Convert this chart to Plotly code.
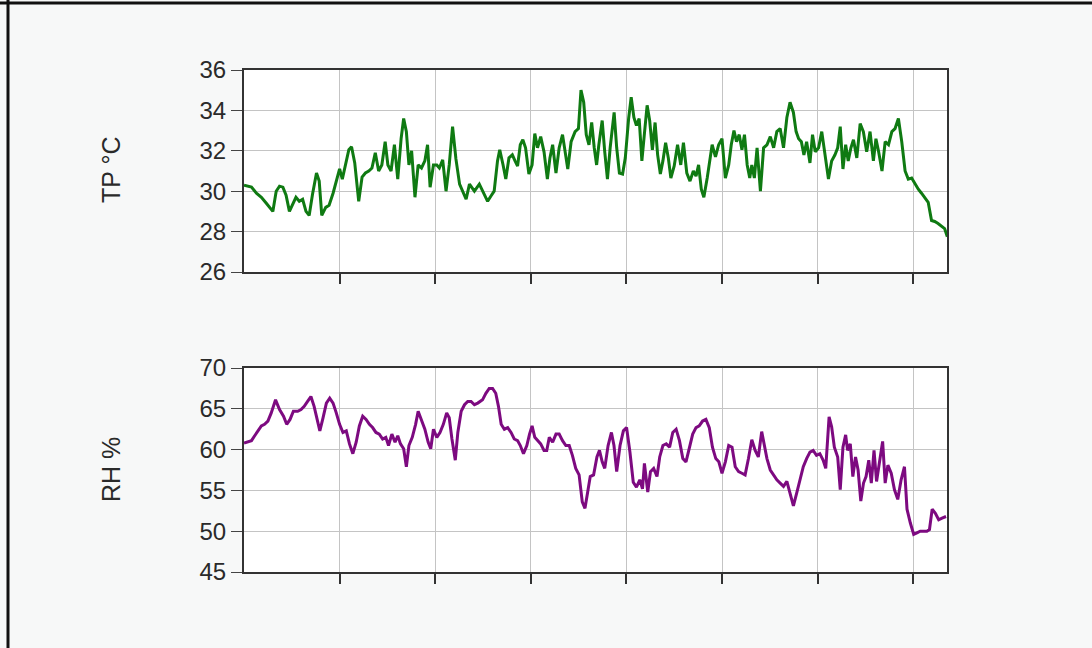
import plotly.graph_objects as go

# minutes since start of record (grid lines every hour)
tp_min = [0, 4.7, 7.8, 10.9, 14.0, 18.1, 20.2, 22.3, 24.4, 26.4, 28.5, 30.6, 32.6, 34.7, 36.8, 38.9, 40.9,
          43.0, 45.5, 47.2, 48.8, 51.3, 53.4, 55.9, 58.6, 60.0, 61.7, 63.7, 65.8, 67.5, 69.5, 72.0, 74.1,
          76.2, 78.3, 80.3, 82.4, 84.5, 86.5, 88.6, 90.3, 92.3, 94.4, 96.5, 98.6, 100.2, 101.9, 103.5,
          105.2, 107.3, 109.3, 111.4, 113.5, 115.2, 116.8, 118.9, 121.0, 122.6, 124.7, 126.8, 128.8,
          130.9, 133.0, 135.3, 137.3, 139.4, 141.5, 144.6, 147.7,
          150.8, 152.9, 154.9, 157.0, 159.1, 160.5, 162.6, 164.3, 166.3, 168.4, 170.1, 171.7, 173.4,
          175.0, 176.7, 178.8, 180.8, 182.5, 184.2, 186.2, 188.3, 190.4, 192.0, 193.7, 195.8, 197.8,
          199.9, 201.6, 203.2, 205.3, 207.8, 209.9, 211.5, 213.2, 214.8, 216.5, 218.2, 219.8, 221.3,
          222.7, 224.8, 226.4, 228.1, 229.8, 232.3, 233.9, 235.6, 237.6, 239.3, 241.4, 243.0, 244.7,
          246.3, 248.0, 249.7, 251.3, 253.0, 254.6, 256.3, 258.0, 259.6, 261.3, 262.9, 264.6, 266.3,
          267.9, 270.0, 272.1, 274.1, 275.8, 277.9, 279.9, 282.0, 283.7, 285.3, 287.0, 288.6, 290.7,
          293.8, 295.9, 297.9, 300.0, 302.1, 304.2, 305.8, 307.5, 309.1, 310.8, 312.5, 314.1, 315.8,
          317.4, 318.7, 320.3, 322.0, 324.1, 326.1, 328.2, 330.3, 332.4, 334.4, 336.5, 338.6, 340.7,
          342.7, 344.8, 346.5, 348.1, 349.8, 351.4, 353.1, 355.2, 356.8, 358.5, 360.6, 362.6, 364.7,
          366.8, 368.8, 370.9, 372.6, 374.2, 375.9, 377.6, 379.2, 380.9, 382.5, 384.6, 386.7, 388.7,
          390.8, 392.9, 395.0, 396.6, 398.3, 400.4, 402.4, 404.5, 406.6, 408.6, 410.7, 412.8, 414.9,
          416.9, 419.0, 421.1, 423.2, 425.2, 427.3, 429.4, 431.5, 433.5, 435.6, 437.7, 439.7, 441.4]
tp_val = [30.3, 30.2, 29.9, 29.7, 29.4, 29.0, 30.0, 30.25, 30.2, 29.8, 29.0, 29.4, 29.7, 29.5, 29.6, 29.0, 28.8,
          29.85, 30.9, 30.5, 28.8, 29.2, 29.3, 29.9, 30.7, 31.1, 30.6, 31.3, 32.05, 32.2, 31.4, 29.5, 30.7,
          30.9, 31.0, 31.15, 31.9, 31.0, 31.3, 32.45, 31.3, 31.0, 32.3, 30.6, 32.6, 33.6, 32.95, 31.3,
          32.0, 29.7, 31.3, 31.15, 31.5, 32.3, 30.2, 31.3, 31.3, 31.15, 31.55, 30.0, 31.3,
          33.2, 31.6, 30.35, 30.0, 29.6, 30.35, 30.0, 30.35,
          29.85, 29.5, 29.75, 30.0, 31.5, 32.05, 31.3, 30.6, 31.65, 31.8, 31.5, 31.25, 32.3,
          32.55, 32.15, 30.85, 31.3, 32.85, 32.15, 32.7, 31.95, 30.6, 31.65, 32.3, 30.9, 32.15,
          32.8, 31.8, 31.1, 32.45, 32.95, 33.1, 35.0, 34.4, 32.8, 32.3, 33.4, 32.15, 31.3,
          32.3, 33.5, 31.95, 30.6, 32.15, 33.9, 32.15, 30.9, 30.85, 31.65, 33.6, 34.65, 33.65,
          33.25, 33.6, 31.5, 32.85, 34.25, 33.5, 32.05, 33.4, 31.8, 30.85, 31.5, 32.4, 31.65,
          30.65, 31.25, 32.3, 31.3, 32.4, 30.9, 30.5, 31.0, 30.75, 31.3, 30.1, 29.7, 30.65,
          32.3, 31.7, 32.3, 32.6, 30.65, 31.3, 32.3, 33.0, 32.45, 32.8, 32.05, 32.8, 31.3,
          30.65, 31.3, 30.65, 32.15, 30.0, 32.15, 32.3, 32.7, 32.15, 32.95, 33.1, 32.15, 33.65,
          34.4, 33.9, 32.95, 32.6, 32.45, 31.8, 32.45, 31.4, 32.8, 31.95, 32.15, 32.95, 31.8,
          30.6, 31.5, 31.8, 32.15, 33.2, 31.1, 32.3, 31.5, 32.15, 32.55, 31.65, 33.35, 32.95,
          31.95, 32.95, 31.5, 32.6, 31.95, 31.0, 32.45, 32.3, 32.95, 33.1, 33.6, 32.45, 31.0,
          30.6, 30.65, 30.35, 30.1, 29.9, 29.7, 29.45, 28.55, 28.5, 28.4, 28.25, 28.15, 27.75]

rh_min = [0, 4.7, 6.7, 8.8, 10.9, 12.9, 15.0, 17.1, 19.8, 22.3, 24.8, 26.8, 28.9, 31.0, 33.7, 35.8, 37.8,
          39.9, 42.0, 44.0, 46.1, 47.6, 49.6, 51.7, 53.8, 55.9, 57.9, 60.0, 62.1, 64.2, 66.2, 68.3, 70.4,
          72.4, 74.5, 76.6, 78.7, 80.7, 82.8, 84.9, 87.0, 89.0, 90.7, 92.8, 94.8, 96.5, 98.2, 100.2,
          101.9, 103.5, 105.6, 107.7, 109.3, 111.4, 113.5, 115.6, 117.2, 118.9, 121.0, 123.0, 125.1,
          127.2, 128.8, 130.5, 132.6, 134.2, 136.3, 138.4, 140.4, 142.5, 144.6, 146.7,
          149.7, 151.8, 153.9, 156.0, 158.0, 159.7, 161.4, 163.4, 165.5, 167.6, 169.6, 171.7, 173.4,
          175.4, 177.5, 179.2, 180.8, 182.5, 184.2, 186.2, 188.3, 190.0, 191.6, 193.7, 195.8, 197.8,
          199.9, 202.0, 204.1, 206.1, 208.2, 210.3, 212.3, 214.0, 215.7, 217.3, 219.4, 221.5, 223.1,
          224.8, 226.4, 228.5, 230.6, 232.2, 233.9, 236.0, 238.1, 240.1, 242.2, 244.3, 246.3, 248.4,
          250.1, 251.3, 253.4, 255.1, 257.1, 259.2, 260.9, 262.9, 265.0, 267.1, 269.1, 271.2, 273.3,
          275.4, 277.4, 279.5, 281.6, 283.7, 285.7, 287.8, 289.9, 292.0, 294.0, 296.1,
          298.0, 300.0, 302.1, 304.2, 306.3, 308.3, 310.4, 312.5, 314.5, 316.6, 318.7, 320.8, 322.8,
          324.9, 326.6, 328.2, 330.3, 332.4, 334.4, 336.5, 338.6, 340.7, 342.7, 344.8, 346.9, 349.0,
          351.0, 353.1, 355.2, 357.2, 359.3, 361.4, 363.5, 365.1, 367.2, 368.8, 370.5, 372.6, 374.2,
          375.9, 377.6, 378.8, 380.5, 382.1, 383.8, 385.4, 387.1, 388.8, 390.4, 392.1, 393.7, 395.4,
          397.0, 398.7, 400.8, 402.4, 404.1, 406.2, 408.2, 410.3, 412.4, 414.5, 416.1, 418.2, 420.3,
          422.3, 424.4, 426.5, 428.6, 430.2, 431.9, 433.9, 436.0, 438.1, 440.6]
rh_val = [60.8, 61.1, 61.7, 62.3, 62.9, 63.1, 63.5, 64.5, 66.1, 64.9, 64.1, 63.1, 63.7, 64.7, 64.7, 64.9, 65.3,
          65.9, 66.5, 65.3, 63.3, 62.3, 63.9, 65.7, 66.3, 65.7, 64.5, 63.1, 62.1, 62.3, 60.7, 59.5, 60.9,
          62.9, 64.1, 63.7, 63.1, 62.7, 62.1, 61.9, 61.3, 61.5, 60.5, 61.9, 60.9, 61.7, 60.7, 60.1,
          57.9, 60.5, 61.5, 63.1, 64.7, 63.5, 62.5, 60.9, 60.1, 62.5, 61.5, 62.1, 63.1,
          64.5, 63.9, 61.3, 58.7, 62.1, 64.7, 65.5, 65.9, 65.9, 65.5, 65.7,
          66.1, 66.9, 67.5, 67.5, 66.9, 65.3, 63.1, 62.5, 62.7, 62.1, 61.3, 61.1, 60.5,
          59.5, 60.5, 61.9, 62.9, 61.5, 61.1, 60.7, 59.9, 59.9, 61.5, 60.9, 61.9, 61.9,
          61.1, 60.5, 60.5, 59.3, 57.7, 56.9, 53.6, 52.8, 54.8, 56.7, 56.9, 59.1, 59.9,
          58.5, 57.7, 60.5, 62.1, 60.5, 57.3, 60.5, 62.3, 62.7, 59.7, 56.0, 55.4, 56.3,
          55.2, 58.3, 54.8, 57.3, 57.7, 56.7, 59.1, 60.5, 60.7, 60.3, 62.1, 62.5, 61.1,
          58.9, 58.5, 60.3, 61.9, 62.7, 62.9, 63.5, 63.7, 62.7, 60.3, 58.9,
          58.5, 57.1, 58.5, 60.5, 60.3, 57.9, 57.3, 57.1, 56.9, 58.9, 61.2, 59.9, 59.1,
          62.2, 60.7, 58.9, 57.5, 56.9, 56.3, 55.9, 55.5, 56.1, 54.7, 53.1, 54.7, 56.3,
          57.9, 58.9, 59.7, 59.9, 59.3, 59.5, 58.7, 57.7, 64.0, 62.8, 60.3, 59.1, 55.1,
          60.3, 61.8, 59.9, 60.7, 56.7, 59.1, 57.5, 53.7, 55.9, 56.7, 58.7, 55.9, 59.9,
          56.1, 58.3, 61.0, 55.9, 58.1, 57.1, 55.1, 53.9, 56.3, 57.9, 52.7, 51.0, 49.6,
          49.8, 50.0, 50.0, 50.0, 50.2, 52.7, 52.2, 51.4, 51.6, 51.8]

hour_ticks = [60, 120, 180, 240, 300, 360, 420]
tp_ticks = [26, 28, 30, 32, 34, 36]
rh_ticks = [45, 50, 55, 60, 65, 70]

W, H = 1092, 648
x0, x1 = 244 / W, 947 / W
FONT = "Liberation Sans, Arial, sans-serif"

fig = go.Figure()
fig.add_trace(go.Scatter(x=tp_min, y=tp_val, mode="lines", xaxis="x", yaxis="y",
                         line=dict(color="#0f7a12", width=3), showlegend=False))
fig.add_trace(go.Scatter(x=rh_min, y=rh_val, mode="lines", xaxis="x2", yaxis="y2",
                         line=dict(color="#7d0a80", width=3), showlegend=False))

xcommon = dict(range=[0, 441.2], tickvals=hour_ticks, showticklabels=False, ticks="outside",
               ticklen=10, tickwidth=2, tickcolor="#333", showgrid=True, gridcolor="#c4c4c4",
               gridwidth=1, showline=True, linecolor="#333", linewidth=2, mirror=True,
               zeroline=False, domain=[x0, x1], automargin=False)
ycommon = dict(ticks="outside", ticklen=11, tickwidth=1, tickcolor="#444", showgrid=True,
               gridcolor="#c4c4c4", gridwidth=1, showline=True, linecolor="#333", linewidth=2,
               mirror=True, zeroline=False, automargin=False,
               tickfont=dict(family=FONT, size=24, color="#2a2a2a"))

fig.update_layout(
    width=W, height=H,
    margin=dict(l=0, r=0, t=0, b=0),
    paper_bgcolor="#f7f8f8", plot_bgcolor="#ffffff",
    xaxis=dict(**xcommon, anchor="y"),
    xaxis2=dict(**xcommon, anchor="y2"),
    yaxis=dict(**ycommon, range=[26, 36], tickvals=tp_ticks, anchor="x",
               domain=[1 - 272 / H, 1 - 70 / H]),
    yaxis2=dict(**ycommon, range=[45, 70], tickvals=rh_ticks, anchor="x2",
                domain=[1 - 572 / H, 1 - 368 / H]),
    annotations=[
        dict(text="TP °C", x=111 / W, y=1 - 170 / H, xref="paper", yref="paper", showarrow=False,
             xanchor="center", yanchor="middle", textangle=-90,
             font=dict(family=FONT, size=25, color="#2a2a2a")),
        dict(text="RH %", x=111 / W, y=1 - 470 / H, xref="paper", yref="paper", showarrow=False,
             xanchor="center", yanchor="middle", textangle=-90,
             font=dict(family=FONT, size=25, color="#2a2a2a")),
    ],
    shapes=[
        dict(type="line", xref="paper", yref="paper", x0=0, x1=1, y0=1 - 3 / H, y1=1 - 3 / H,
             line=dict(color="#111", width=3)),
        dict(type="line", xref="paper", yref="paper", x0=8 / W, x1=8 / W, y0=0, y1=1,
             line=dict(color="#111", width=3)),
    ],
)

fig.write_html("out.html", config={"displayModeBar": False},
               post_script="document.body.style.margin='0';")
